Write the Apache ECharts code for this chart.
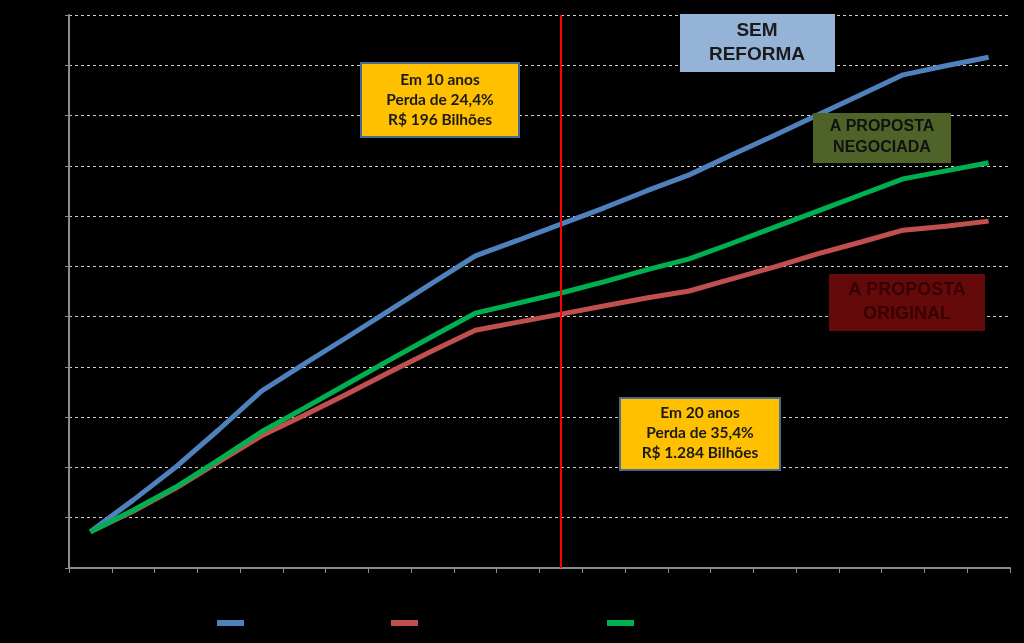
<!DOCTYPE html>
<html>
<head>
<meta charset="utf-8">
<script src="https://cdn.jsdelivr.net/npm/echarts@6/dist/echarts.min.js"></script>
<style>html,body{margin:0;padding:0;background:#000;}#c{width:1024px;height:643px;}</style>
</head>
<body>
<div id="c"></div>
<script>
var categories = ['2015','2016','2017','2018','2019','2020','2021','2022','2023','2024','2025','2026','2027','2028','2029','2030','2031','2032','2033','2034','2035','2036'];
var semReforma = [72,135,201,275,352,406,459,513,567,621,652,684,716,750,782,822,861,901,941,981,999,1016];
var propostaOriginal = [72,113,159,211,263,304,346,390,432,473,489,505,521,537,551,575,599,625,648,672,680,690];
var propostaNegociada = [72,115,161,215,271,318,366,414,461,507,527,547,569,593,615,646,678,710,742,774,790,806];
var seriesNames = ['Sem reforma','Proposta original','Proposta negociada'];
var markerCategory = '2026';
var yMin = 0, yMax = 1100, yInterval = 100;

var chart = echarts.init(document.getElementById('c'));
var yFont = 'bold 15.5px Lato, "Open Sans", sans-serif';
function box(x,y,w,h,fill,stroke,lw){
  return {type:'rect', shape:{x:x,y:y,width:w,height:h}, style:{fill:fill, stroke:stroke, lineWidth:lw}, z:100};
}
function txt(x,y,t,font,color){
  return {type:'text', x:x, y:y, style:{text:t, fill:color, font:font, textAlign:'center', textVerticalAlign:'middle'}, z:101};
}
chart.setOption({
  backgroundColor:'#000',
  animation:false,
  grid:{left:69, right:14, top:15, bottom:75, containLabel:false},
  legend:[
    {data:[seriesNames[0]], left:212, top:612, itemWidth:27, itemHeight:6, textStyle:{color:'#000', fontSize:12}, icon:'rect'},
    {data:[seriesNames[1]], left:386, top:612, itemWidth:27, itemHeight:6, textStyle:{color:'#000', fontSize:12}, icon:'rect'},
    {data:[seriesNames[2]], left:602, top:612, itemWidth:27, itemHeight:6, textStyle:{color:'#000', fontSize:12}, icon:'rect'}
  ],
  xAxis:{
    type:'category', data:categories, boundaryGap:true,
    axisLine:{lineStyle:{color:'#8c8c8c', width:2}},
    axisTick:{show:true, length:5, lineStyle:{color:'#8c8c8c', width:1}},
    axisLabel:{show:false},
    splitLine:{show:false}
  },
  yAxis:{
    type:'value', min:yMin, max:yMax, interval:yInterval,
    axisLine:{show:true, lineStyle:{color:'#8c8c8c', width:2}},
    axisTick:{show:true, length:4, lineStyle:{color:'#8c8c8c'}},
    axisLabel:{show:false},
    splitLine:{show:true, lineStyle:{color:'#cfcfcf', type:[3,3], width:1}}
  },
  series:[
    {name:seriesNames[0], type:'line', data:semReforma, symbol:'none', color:'#4F81BD', lineStyle:{width:5, color:'#4F81BD'}, z:3},
    {name:seriesNames[1], type:'line', data:propostaOriginal, symbol:'none', color:'#C0504D', lineStyle:{width:5, color:'#C0504D'}, z:2},
    {name:seriesNames[2], type:'line', data:propostaNegociada, symbol:'none', color:'#00B050', lineStyle:{width:5, color:'#00B050'}, z:4,
     markLine:{silent:true, symbol:'none', label:{show:false}, lineStyle:{color:'#FF0000', width:2, type:'solid'}, data:[{xAxis:markerCategory}]}}
  ],
  graphic:[
    box(361,63,158,74,'#FFC000','#4A6A8F',2),
    txt(440,80,'Em 10 anos',yFont,'#1a1a1a'),
    txt(440,100,'Perda de 24,4%',yFont,'#1a1a1a'),
    txt(440,120,'R$ 196 Bilhões',yFont,'#1a1a1a'),
    box(620,398,160,72,'#FFC000','#4A6A8F',2),
    txt(700,413,'Em 20 anos',yFont,'#1a1a1a'),
    txt(700,433,'Perda de 35,4%',yFont,'#1a1a1a'),
    txt(700,453,'R$ 1.284 Bilhões',yFont,'#1a1a1a'),
    box(680,14,155,58,'#95B3D7',null,0),
    txt(757,31,'SEM','bold 19px "Liberation Sans", Arial, sans-serif','#1a1a1a'),
    txt(757,55,'REFORMA','bold 19px "Liberation Sans", Arial, sans-serif','#1a1a1a'),
    box(813,113,138,50,'#4F6228',null,0),
    txt(882,127,'A PROPOSTA','bold 16px "Liberation Sans", Arial, sans-serif','#111'),
    txt(882,148,'NEGOCIADA','bold 16px "Liberation Sans", Arial, sans-serif','#111'),
    box(829,274,156,57,'#640A0A',null,0),
    txt(907,290,'A PROPOSTA','bold 18px "Liberation Sans", Arial, sans-serif','#380000'),
    txt(907,314,'ORIGINAL','bold 18px "Liberation Sans", Arial, sans-serif','#380000')
  ]
});
</script>
</body>
</html>
